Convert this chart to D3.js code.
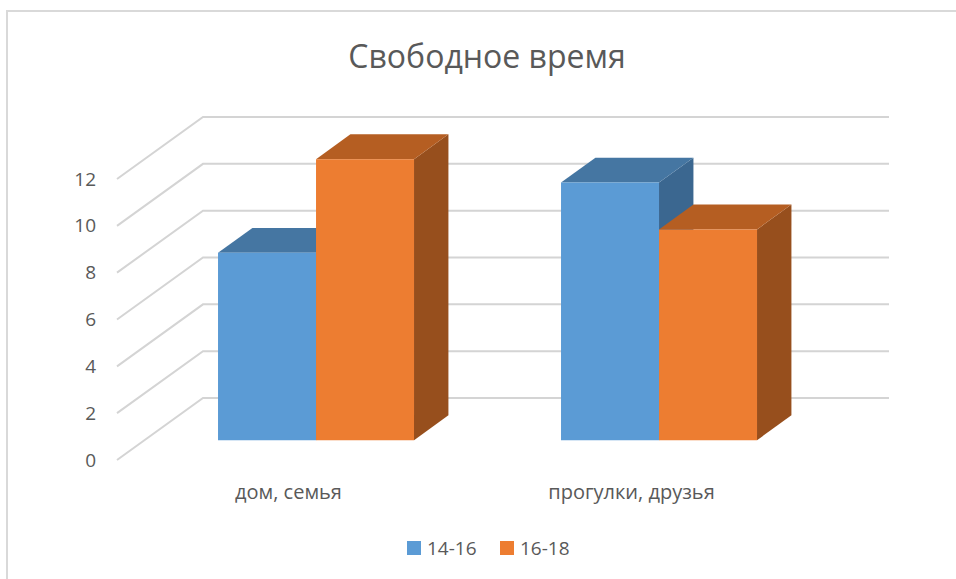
<!DOCTYPE html>
<html>
<head>
<meta charset="utf-8">
<script src="https://cdn.jsdelivr.net/npm/d3@7"></script>
<style>
  body { margin: 0; background: #fff; }
  svg { display: block; font-family: "Open Sans", sans-serif; }
  .tick-label { fill: #595959; font-size: 19px; }
  .cat-label { fill: #595959; font-size: 20px; }
  .grid { stroke: #d4d4d4; stroke-width: 2; fill: none; }
</style>
</head>
<body>
<svg width="956" height="579"></svg>
<script>
var title = "Свободное время";
var categories = ["дом, семья", "прогулки, друзья"];
var seriesNames = ["14-16", "16-18"];
var values14 = [8, 11];
var values16 = [12, 9];
var yTicks = [0, 2, 4, 6, 8, 10, 12];

var colors = {
  "14-16": { front: "#5b9bd5", top: "#4576a2", side: "#3b6790" },
  "16-18": { front: "#ed7d31", top: "#b55e22", side: "#974f1d" }
};

var svg = d3.select("svg");

// chart frame
svg.append("rect")
  .attr("x", 7).attr("y", 11)
  .attr("width", 960).attr("height", 580)
  .attr("fill", "none")
  .attr("stroke", "#d9d9d9")
  .attr("stroke-width", 2);

// oblique projection: depth z in [0,1] shifts right and up
var depthX = 86, depthY = 62;
var x = d3.scaleBand().domain(categories).range([117, 803]);
var y = d3.scaleLinear().domain([0, 12]).range([460, 179]);
var inner = d3.scaleBand().domain(seriesNames).range([0, 196]);

function proj(px, v, z) {
  return [px + z * depthX, y(v) - z * depthY];
}

// back wall gridlines + side diagonals
yTicks.forEach(function(t) {
  var f = proj(117, t, 0), b = proj(117, t, 1), e = proj(803, t, 1);
  svg.append("path")
    .attr("class", "grid")
    .attr("d", "M" + f + "L" + b + "L" + e);
});

// y tick labels
svg.append("g").selectAll("text")
  .data(yTicks)
  .enter().append("text")
    .attr("class", "tick-label")
    .attr("x", 96)
    .attr("y", function(d) { return y(d); })
    .attr("dy", "0.35em")
    .attr("text-anchor", "end")
    .text(function(d) { return d; });

// bars
var zFront = 0.32, zBack = 0.72;
var bars = [];
categories.forEach(function(c, i) {
  bars.push({ cat: c, series: "14-16", value: values14[i] });
  bars.push({ cat: c, series: "16-18", value: values16[i] });
});

function poly(pts) {
  return "M" + pts.map(function(p) { return p.join(","); }).join("L") + "Z";
}

bars.forEach(function(d) {
  var x0 = x(d.cat) + x.bandwidth() / 2 - 98 + inner(d.series);
  var x1 = x0 + inner.bandwidth();
  var col = colors[d.series];
  var g = svg.append("g");
  // side face
  g.append("path")
    .attr("fill", col.side)
    .attr("d", poly([proj(x1, 0, zFront), proj(x1, 0, zBack), proj(x1, d.value, zBack), proj(x1, d.value, zFront)]));
  // top face
  g.append("path")
    .attr("fill", col.top)
    .attr("d", poly([proj(x0, d.value, zFront), proj(x0, d.value, zBack), proj(x1, d.value, zBack), proj(x1, d.value, zFront)]));
  // front face
  g.append("path")
    .attr("fill", col.front)
    .attr("d", poly([proj(x0, 0, zFront), proj(x1, 0, zFront), proj(x1, d.value, zFront), proj(x0, d.value, zFront)]));
});

// category labels
svg.append("g").selectAll("text")
  .data(categories)
  .enter().append("text")
    .attr("class", "cat-label")
    .attr("x", function(d) { return x(d) + x.bandwidth() / 2; })
    .attr("y", 499)
    .attr("text-anchor", "middle")
    .text(function(d) { return d; });

// title
svg.append("text")
  .attr("x", 487)
  .attr("y", 68)
  .attr("text-anchor", "middle")
  .attr("fill", "#595959")
  .attr("font-size", 32)
  .text(title);

// legend
var legendX = [407, 500];
var legend = svg.append("g").selectAll("g")
  .data(seriesNames)
  .enter().append("g")
    .attr("transform", function(d, i) { return "translate(" + legendX[i] + ",541)"; });
legend.append("rect")
  .attr("width", 14).attr("height", 14)
  .attr("fill", function(d) { return colors[d].front; });
legend.append("text")
  .attr("class", "tick-label")
  .attr("x", 20).attr("y", 7)
  .attr("dy", "0.35em")
  .text(function(d) { return d; });
</script>
</body>
</html>
